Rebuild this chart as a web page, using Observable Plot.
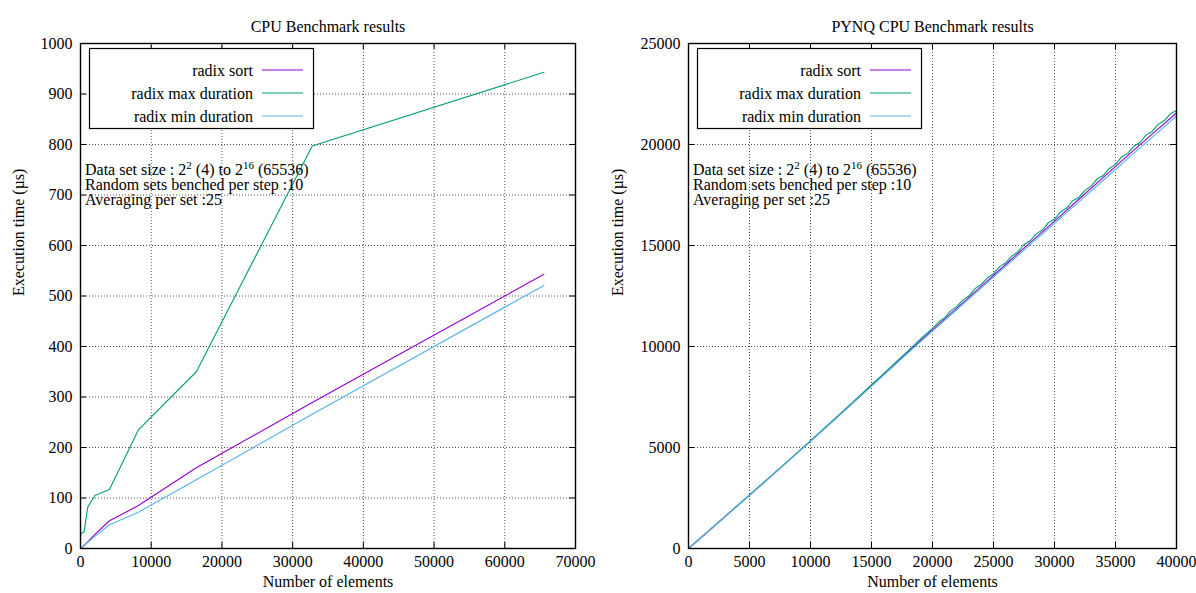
<!DOCTYPE html>
<html><head><meta charset="utf-8">
<script src="https://cdn.jsdelivr.net/npm/d3@7"></script>
<script src="https://cdn.jsdelivr.net/npm/@observablehq/plot@0.6"></script>
<style>
body{margin:0;background:#fff;}
#wrap{position:relative;width:1196px;height:593px;overflow:hidden;}
#wrap > div{position:absolute;top:0;}
svg text{font-family:"Liberation Serif","DejaVu Serif","Times New Roman",serif !important;}
</style></head><body>
<div id="wrap"><div id="left" style="left:0"></div><div id="right" style="left:598px"></div></div>
<script>
// ---- data ----
const seriesNames = ["radix sort", "radix max duration", "radix min duration"];
const seriesColors = ["#9400d3", "#009e73", "#56b4e9"];

// Left chart: CPU Benchmark results
const cpuN    = [4, 8, 16, 32, 64, 128, 256, 512, 1024, 2048, 4096, 8192, 16384, 32768, 65536];
const cpuSort = [0.3, 0.5, 0.8, 1.2, 1.6, 2.2, 3, 6, 13, 28, 55, 85, 160, 289, 543];
const cpuMax  = [17, 22, 25, 27, 29, 30, 31, 33, 82, 105, 117, 235, 350, 797, 943];
const cpuMin  = [0.2, 0.4, 0.6, 1, 1.4, 2, 2.8, 5.5, 12, 24, 47, 72, 136, 266, 521];

// Right chart: PYNQ CPU Benchmark results
const pynqN    = [0, 2000, 4000, 6000, 8000, 10000, 12000, 14000, 16000, 18000, 20000, 22000, 24000, 26000, 28000, 30000, 32000, 34000, 36000, 38000, 40000];
const pynqSort = [0, 1050, 2110, 3170, 4240, 5320, 6410, 7510, 8620, 9730, 10820, 11900, 12980, 14060, 15140, 16210, 17290, 18370, 19450, 20510, 21560];
const pynqMin  = [0, 1045, 2100, 3160, 4225, 5300, 6385, 7480, 8580, 9680, 10760, 11830, 12900, 13970, 15040, 16100, 17160, 18230, 19300, 20350, 21410];
const pynqMaxN = [0, 1000, 2000, 3000, 4000, 5000, 6000, 7000, 8000, 9000, 10000, 11000, 12000, 13000, 14000, 15000, 16000, 17000, 18000, 19000,
  20000, 20500, 21000, 21500, 22000, 22500, 23000, 23500, 24000, 24500, 25000, 25500, 26000, 26500, 27000, 27500, 28000, 28500, 29000, 29500,
  30000, 30500, 31000, 31500, 32000, 32500, 33000, 33500, 34000, 34500, 35000, 35500, 36000, 36500, 37000, 37500, 38000, 38500, 39000, 39500, 40000];
const pynqMax  = [0, 530, 1060, 1590, 2120, 2650, 3185, 3720, 4255, 4800, 5340, 5880, 6425, 6980, 7540, 8110, 8660, 9230, 9780, 10360,
  10900, 11210, 11430, 11765, 11985, 12310, 12510, 12870, 13070, 13400, 13595, 13955, 14150, 14480, 14680, 15050, 15235, 15575, 15765, 16130,
  16310, 16660, 16855, 17215, 17385, 17730, 17940, 18300, 18470, 18815, 19015, 19385, 19560, 19910, 20100, 20465, 20645, 20995, 21185, 21520, 21680];

const cpuXTicks  = [0, 10000, 20000, 30000, 40000, 50000, 60000, 70000];
const cpuYTicks  = [0, 100, 200, 300, 400, 500, 600, 700, 800, 900, 1000];
const pynqXTicks = [0, 5000, 10000, 15000, 20000, 25000, 30000, 35000, 40000];
const pynqYTicks = [0, 5000, 10000, 15000, 20000, 25000];

const infoLines = [
  ["Data set size : 2", "2", " (4) to 2", "16", " (65536)"],
  ["Random sets benched per step :10"],
  ["Averaging per set :25"]
];

function rows(xs, ys, name) { return xs.map((x, i) => ({n: x, t: ys[i], series: name})); }

const cpuData = [
  ...rows(cpuN, cpuSort, seriesNames[0]),
  ...rows(cpuN, cpuMax, seriesNames[1]),
  ...rows(cpuN, cpuMin, seriesNames[2])
];
const pynqData = [
  ...rows(pynqN, pynqSort, seriesNames[0]),
  ...rows(pynqMaxN, pynqMax, seriesNames[1]),
  ...rows(pynqN, pynqMin, seriesNames[2])
];

const FONT = "Liberation Serif, DejaVu Serif, serif";
const fmt = d => String(d);

function chart({data, xDomain, yDomain, xTicks, yTicks, width, marginLeft, marginRight, title, yLabelDx}) {
  const H = 593, mt = 43, mb = 45;
  const ph = H - mt - mb, pw = width - marginLeft - marginRight;
  const svg = Plot.plot({
    width, height: H, marginTop: mt, marginBottom: mb, marginLeft, marginRight,
    style: {fontFamily: FONT, fontSize: "16px", color: "#000", background: "#fff", overflow: "visible"},
    x: {domain: xDomain},
    y: {domain: yDomain},
    color: {domain: seriesNames, range: seriesColors},
    marks: [
      Plot.gridX(xTicks, {stroke: "#555", strokeOpacity: 1, strokeWidth: 1, strokeDasharray: "1,2"}),
      Plot.gridY(yTicks, {stroke: "#555", strokeOpacity: 1, strokeWidth: 1, strokeDasharray: "1,2"}),
      Plot.tickX(xTicks, {x: d => d, insetTop: ph - 6, stroke: "#000"}),
      Plot.tickX(xTicks, {x: d => d, insetBottom: ph - 6, stroke: "#000"}),
      Plot.tickY(yTicks, {y: d => d, insetRight: pw - 6, stroke: "#000"}),
      Plot.tickY(yTicks, {y: d => d, insetLeft: pw - 6, stroke: "#000"}),
      Plot.axisX(xTicks, {tickSize: 0, tickPadding: 7, label: null, fontSize: 16, tickFormat: fmt}),
      Plot.axisY(yTicks, {tickSize: 0, tickPadding: 8, label: null, fontSize: 16, tickFormat: fmt}),
      Plot.text([title], {text: d => d, frameAnchor: "top", dy: -23, fontSize: 16}),
      Plot.text(["Number of elements"], {text: d => d, frameAnchor: "bottom", dy: 38, fontSize: 16}),
      Plot.text(["Execution time (µs)"], {text: d => d, frameAnchor: "left", dx: yLabelDx, rotate: -90, fontSize: 16}),
      Plot.line(data, {x: "n", y: "t", z: "series", stroke: "series", strokeWidth: 1.1}),
      Plot.frame({stroke: "#000", strokeWidth: 1.4})
    ]
  });
  // legend box and info text, inside the frame
  const s = d3.select(svg);
  const g = s.append("g").attr("font-family", FONT).attr("font-size", 16).attr("text-anchor", "start");
  const fx = marginLeft, fy = mt;
  g.append("rect").attr("x", fx + 9.5).attr("y", fy + 5.5).attr("width", 224).attr("height", 80)
    .attr("fill", "#fff").attr("stroke", "#000").attr("stroke-width", 1.2);
  seriesNames.forEach((name, i) => {
    const y = fy + 27 + i * 23;
    g.append("text").attr("x", fx + 173).attr("y", y).attr("text-anchor", "end")
      .attr("dy", "0.35em").text(name);
    g.append("line").attr("x1", fx + 182).attr("x2", fx + 223).attr("y1", y).attr("y2", y)
      .attr("stroke", seriesColors[i]).attr("stroke-width", 1.1);
  });
  infoLines.forEach((parts, i) => {
    const t = g.append("text").attr("x", fx + 5).attr("y", fy + 132 + i * 15).attr("text-anchor", "start");
    parts.forEach((p, j) => {
      if (j % 2 === 1) {
        t.append("tspan").attr("font-size", 11).attr("dy", -6).text(p);
      } else {
        const ts = t.append("tspan").text(p);
        if (j > 0) ts.attr("dy", 6);
      }
    });
  });
  return svg;
}

document.getElementById("left").append(chart({
  data: cpuData, xDomain: [0, 70000], yDomain: [0, 1000], xTicks: cpuXTicks, yTicks: cpuYTicks,
  width: 598, marginLeft: 80, marginRight: 23, title: "CPU Benchmark results", yLabelDx: -62
}));
document.getElementById("right").append(chart({
  data: pynqData, xDomain: [0, 40000], yDomain: [0, 25000], xTicks: pynqXTicks, yTicks: pynqYTicks,
  width: 598, marginLeft: 90, marginRight: 20, title: "PYNQ CPU Benchmark results", yLabelDx: -71
}));
</script>
</body></html>
